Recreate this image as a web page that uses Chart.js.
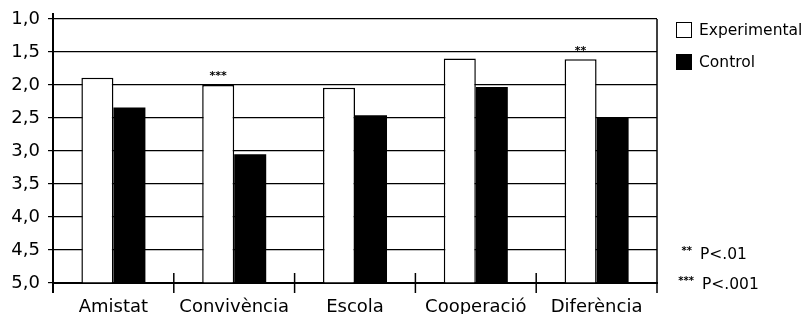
<!DOCTYPE html>
<html>
<head>
<meta charset="utf-8">
<script src="https://cdn.jsdelivr.net/npm/chart.js@4"></script>
<style>
  html, body { margin: 0; padding: 0; background: #fff; }
  #wrap { width: 810px; height: 314px; }
</style>
</head>
<body>
<div id="wrap"><canvas id="chart" width="810" height="314"></canvas></div>
<script>
const categories = ["Amistat", "Convivència", "Escola", "Cooperació", "Diferència"];
const experimental = [1.89, 2.0, 2.04, 1.6, 1.61];
const control = [2.34, 3.05, 2.46, 2.03, 2.5];
const expMarks = ["", "***", "", "", "**"];
const yTicks = [1, 1.5, 2, 2.5, 3, 3.5, 4, 4.5, 5];
const yTickLabels = ["1,0", "1,5", "2,0", "2,5", "3,0", "3,5", "4,0", "4,5", "5,0"];
const noteStars = ["**", "***"];
const noteTexts = ["P<.01", "P<.001"];

const FONT = "'DejaVu Sans', sans-serif";

// extra bits the reference has: axis overhangs, boundary ticks, stars, legend, notes
const extras = {
    id: "extras",
    afterDraw(chart) {
        const ctx = chart.ctx;
        const area = chart.chartArea;
        const x = chart.scales.x;
        ctx.save();
        ctx.strokeStyle = "#000";
        ctx.fillStyle = "#000";

        // y axis overhang
        ctx.lineWidth = 2;
        ctx.beginPath();
        ctx.moveTo(area.left, area.top - 6);
        ctx.lineTo(area.left, area.bottom + 10);
        ctx.stroke();

        // right border
        ctx.lineWidth = 1.5;
        ctx.beginPath();
        ctx.moveTo(area.right, area.top);
        ctx.lineTo(area.right, area.bottom + 10);
        ctx.stroke();

        // category boundary ticks
        for (let i = 1; i < categories.length; i++) {
            const bx = (x.getPixelForTick(i - 1) + x.getPixelForTick(i)) / 2;
            ctx.beginPath();
            ctx.moveTo(bx, area.bottom - 10);
            ctx.lineTo(bx, area.bottom + 10);
            ctx.stroke();
        }

        // significance stars over the bars
        const meta = chart.getDatasetMeta(0);
        ctx.font = "bold 11px " + FONT;
        ctx.textAlign = "center";
        ctx.textBaseline = "bottom";
        expMarks.forEach((m, i) => {
            if (!m) return;
            const bar = meta.data[i];
            ctx.fillText(m, bar.x, bar.y - 3);
        });

        // legend
        const lx = area.right + 19;
        ctx.font = "15.5px " + FONT;
        ctx.textAlign = "left";
        ctx.textBaseline = "middle";
        chart.data.datasets.forEach((ds, i) => {
            const ly = 30 + i * 32;
            ctx.fillStyle = ds.backgroundColor;
            ctx.fillRect(lx, ly - 8, 16, 16);
            ctx.lineWidth = 1;
            ctx.strokeRect(lx + 0.5, ly - 7.5, 15, 15);
            ctx.fillStyle = "#000";
            ctx.fillText(ds.label, lx + 23, ly + 1);
        });

        // p-value notes
        noteTexts.forEach((t, i) => {
            const ny = 255 + i * 30;
            ctx.font = "bold 10px " + FONT;
            ctx.textAlign = "right";
            ctx.textBaseline = "middle";
            ctx.fillText(noteStars[i], area.right + 35 + i * 2, ny - 4);
            ctx.font = "15.5px " + FONT;
            ctx.textAlign = "left";
            ctx.fillText(t, area.right + 43 + i * 2, ny);
        });
        ctx.restore();
    }
};

new Chart(document.getElementById("chart"), {
    type: "bar",
    data: {
        labels: categories,
        datasets: [{
            label: "Experimental",
            data: experimental,
            backgroundColor: "#ffffff",
            borderColor: "#000000",
            borderWidth: 1.5,
            base: 5
        }, {
            label: "Control",
            data: control,
            backgroundColor: "#000000",
            borderColor: "#000000",
            borderWidth: 0,
            base: 5
        }]
    },
    options: {
        responsive: false,
        animation: false,
        layout: { padding: { top: 19, right: 153, left: 0, bottom: 0 } },
        datasets: { bar: { categoryPercentage: 0.53, barPercentage: 1 } },
        plugins: { legend: { display: false }, tooltip: { enabled: false } },
        scales: {
            x: {
                grid: { display: false },
                border: { color: "#000", width: 2 },
                ticks: { color: "#000", font: { family: FONT, size: 18 }, padding: 6, maxRotation: 0 },
                afterFit: s => { s.height = 31; }
            },
            y: {
                reverse: true,
                min: 1,
                max: 5,
                afterBuildTicks: s => { s.ticks = yTicks.map(v => ({ value: v })); },
                ticks: {
                    color: "#000",
                    font: { family: FONT, size: 18 },
                    padding: 8,
                    callback: v => yTickLabels[yTicks.indexOf(v)]
                },
                grid: { color: "#000", lineWidth: 1.2, tickLength: 5 },
                border: { color: "#000", width: 2 },
                afterFit: s => { s.width = 53; }
            }
        }
    },
    plugins: [extras]
});
</script>
</body>
</html>
